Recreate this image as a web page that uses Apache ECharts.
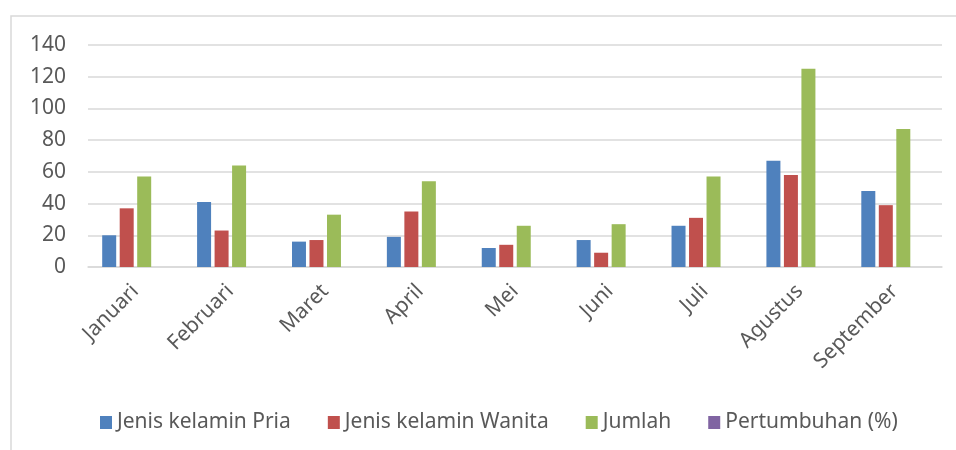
<!DOCTYPE html>
<html>
<head>
<meta charset="utf-8">
<script src="https://cdn.jsdelivr.net/npm/echarts@6/dist/echarts.min.js"></script>
<style>
  html, body { margin: 0; padding: 0; background: #fff; }
  #container { width: 956px; height: 450px; }
</style>
</head>
<body>
<div id="container"></div>
<script>
// data
var months = ['Januari', 'Februari', 'Maret', 'April', 'Mei', 'Juni', 'Juli', 'Agustus', 'September'];
var pria = [20, 41, 16, 19, 12, 17, 26, 67, 48];
var wanita = [37, 23, 17, 35, 14, 9, 31, 58, 39];
var jumlah = [57, 64, 33, 54, 26, 27, 57, 125, 87];
var pertumbuhan = [null, null, null, null, null, null, null, null, null];
var seriesNames = ['Jenis kelamin Pria', 'Jenis kelamin Wanita', 'Jumlah', 'Pertumbuhan (%)'];

var myChart = echarts.init(document.getElementById('container'));

var font = 'Noto Sans';
var textColor = '#595959';

function bar(name, data, color) {
    return {
        name: name,
        type: 'bar',
        data: data,
        barWidth: 14,
        barGap: '25%',
        itemStyle: {color: color},
        emphasis: {disabled: true}
    };
}

var option = {
    animation: false,
    textStyle: {fontFamily: font},
    graphic: [{
        type: 'rect',
        shape: {x: 11, y: 16, width: 1000, height: 500},
        style: {fill: 'none', stroke: '#d9d9d9', lineWidth: 1.5},
        silent: true,
        z: -1
    }],
    grid: {left: 88, right: 14, top: 45, bottom: 183},
    legend: {
        left: 95,
        top: 407,
        itemWidth: 12,
        itemHeight: 13,
        itemGap: 37,
        icon: 'rect',
        textStyle: {color: textColor, fontSize: 21, fontFamily: font},
        data: seriesNames
    },
    xAxis: {
        type: 'category',
        data: months,
        axisLine: {lineStyle: {color: '#d9d9d9', width: 1.5}},
        axisTick: {show: false},
        axisLabel: {
            rotate: 45,
            margin: 21,
            color: textColor,
            fontSize: 21,
            fontFamily: font,
            interval: 0
        }
    },
    yAxis: {
        type: 'value',
        min: 0,
        max: 140,
        interval: 20,
        axisLine: {show: false},
        axisTick: {show: false},
        axisLabel: {margin: 22, color: textColor, fontSize: 21, fontFamily: font},
        splitLine: {lineStyle: {color: '#d9d9d9', width: 1.5}}
    },
    series: [
        bar(seriesNames[0], pria, '#4F81BD'),
        bar(seriesNames[1], wanita, '#C0504D'),
        bar(seriesNames[2], jumlah, '#9BBB59'),
        bar(seriesNames[3], pertumbuhan, '#8064A2')
    ]
};

myChart.setOption(option);
</script>
</body>
</html>
